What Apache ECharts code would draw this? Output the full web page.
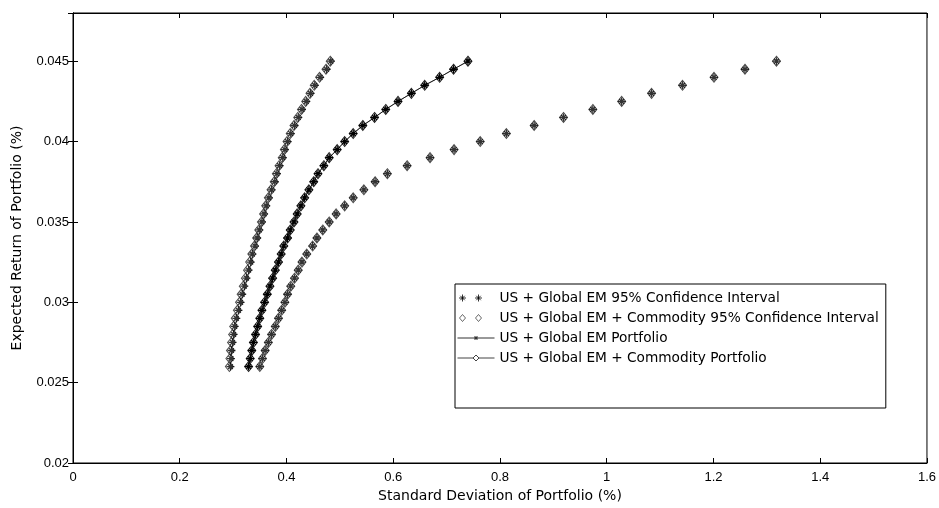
<!DOCTYPE html>
<html><head><meta charset="utf-8">
<script src="https://cdn.jsdelivr.net/npm/echarts@6/dist/echarts.min.js"></script>
<style>html,body{margin:0;padding:0;background:#fff}#c{width:939px;height:508px}</style>
</head><body><div id="c"></div><script>
// Expected return (%) for each frontier point
const expectedReturn = [0.026,0.0265,0.027,0.0275,0.028,0.0285,0.029,0.0295,0.030,0.0305,0.031,0.0315,0.032,0.0325,0.033,0.0335,0.034,0.0345,0.035,0.0355,0.036,0.0365,0.037,0.0375,0.038,0.0385,0.039,0.0395,0.040,0.0405,0.041,0.0415,0.042,0.0425,0.043,0.0435,0.044,0.0445,0.045];
// Standard deviation (%) – US + Global EM 95% CI, lower / upper bounds
const gemCILower = [0.295,0.296,0.297,0.299,0.301,0.303,0.306,0.310,0.314,0.317,0.321,0.325,0.329,0.333,0.336,0.341,0.345,0.349,0.354,0.358,0.362,0.367,0.372,0.378,0.382,0.387,0.393,0.397,0.402,0.408,0.415,0.422,0.429,0.437,0.445,0.453,0.463,0.475,0.483];
const gemCIUpper = [0.350,0.355,0.360,0.366,0.372,0.379,0.385,0.391,0.397,0.402,0.408,0.415,0.422,0.429,0.438,0.449,0.457,0.468,0.480,0.493,0.509,0.525,0.545,0.566,0.589,0.626,0.669,0.714,0.763,0.812,0.864,0.919,0.974,1.028,1.084,1.142,1.201,1.259,1.318];
// Standard deviation (%) – US + Global EM + Commodity 95% CI, lower / upper bounds
const comCILower = [0.293,0.294,0.295,0.297,0.299,0.301,0.304,0.308,0.312,0.315,0.319,0.323,0.327,0.331,0.335,0.340,0.344,0.348,0.353,0.357,0.361,0.366,0.371,0.377,0.381,0.386,0.392,0.396,0.401,0.407,0.414,0.421,0.428,0.436,0.444,0.452,0.462,0.474,0.482];
const comCIUpper = [0.350,0.355,0.360,0.366,0.372,0.379,0.385,0.391,0.397,0.402,0.408,0.415,0.422,0.429,0.438,0.449,0.457,0.468,0.480,0.493,0.509,0.525,0.545,0.566,0.589,0.626,0.669,0.714,0.763,0.812,0.864,0.919,0.974,1.028,1.084,1.142,1.201,1.259,1.318];
// Standard deviation (%) – portfolios
const gemPortfolio = [0.329,0.332,0.335,0.338,0.342,0.346,0.350,0.354,0.359,0.364,0.369,0.374,0.379,0.385,0.390,0.395,0.402,0.407,0.414,0.420,0.427,0.434,0.442,0.451,0.459,0.470,0.480,0.495,0.509,0.525,0.543,0.565,0.586,0.609,0.634,0.659,0.687,0.713,0.740];
const comPortfolio = [0.329,0.332,0.335,0.338,0.342,0.346,0.350,0.354,0.359,0.364,0.369,0.374,0.379,0.385,0.390,0.395,0.402,0.407,0.414,0.420,0.427,0.434,0.442,0.451,0.459,0.470,0.480,0.495,0.509,0.525,0.543,0.565,0.586,0.609,0.634,0.659,0.687,0.713,0.740];

const names = ['US + Global EM 95% Confidence Interval','US + Global EM + Commodity 95% Confidence Interval','US + Global EM Portfolio','US + Global EM + Commodity Portfolio'];

const pair = (xs) => xs.map((x, i) => [x, expectedReturn[i]]);
const STAR = 'path://M0,5L10,5M5,0L5,10M2,2L8,8M8,2L2,8';
const TWO_STARS = 'path://M0,0M37,10M1.5,5L8.5,5M5,1.5L5,8.5M2.8,2.8L7.2,7.2M7.2,2.8L2.8,7.2M17.5,5L24.5,5M21,1.5L21,8.5M18.8,2.8L23.2,7.2M23.2,2.8L18.8,7.2';
const TWO_DIAMONDS = 'path://M0,0M37,10M5,1.5L8,5L5,8.5L2,5Z M21,1.5L24,5L21,8.5L18,5Z';
const LINE_STAR = 'path://M0,0M37,10M0,5L37,5M18.5,3L18.5,7M16.5,5L20.5,5M17,3.5L20,6.5M20,3.5L17,6.5';
const LINE_DIAMOND = 'path://M0,0M37,10M0,5L15.5,5M21.5,5L37,5M18.5,2L21.5,5L18.5,8L15.5,5Z';

const tickFont = 'Liberation Sans, Arial, Helvetica, sans-serif';
const textFont = 'DejaVu Sans, Verdana, sans-serif';
const diamondStyle = {color: 'rgba(0,0,0,0)', borderColor: '#222', borderWidth: 1};
const starStyle = {color: 'rgba(0,0,0,0)', borderColor: '#000', borderWidth: 1.3};

const chart = echarts.init(document.getElementById('c'), null, {renderer: 'canvas'});
const axisCommon = {
  axisLine: {lineStyle: {color: '#000', width: 1}},
  axisTick: {inside: true, length: 5, lineStyle: {color: '#000'}},
  splitLine: {show: false}
};
chart.setOption({
  animation: false,
  backgroundColor: '#fff',
  grid: {left: 73, right: 11, top: 13, bottom: 43, show: true, borderColor: '#000', borderWidth: 1},
  xAxis: [
    Object.assign({type: 'value', min: 0, max: 1.6, interval: 0.2, position: 'bottom',
      name: 'Standard Deviation of Portfolio (%)', nameLocation: 'middle', nameGap: 26,
      nameTextStyle: {color: '#000', fontSize: 14, fontFamily: textFont},
      axisLabel: {color: '#000', fontSize: 13, fontFamily: tickFont, margin: 8, formatter: v => String(+v.toFixed(1))}}, axisCommon),
    Object.assign({type: 'value', min: 0, max: 1.6, interval: 0.2, position: 'top', axisLabel: {show: false}}, axisCommon)
  ],
  yAxis: [
    Object.assign({type: 'value', min: 0.02, max: 0.048, interval: 0.005, position: 'left',
      name: 'Expected Return of Portfolio (%)', nameLocation: 'middle', nameGap: 49,
      nameTextStyle: {color: '#000', fontSize: 14, fontFamily: textFont},
      axisLabel: {color: '#000', fontSize: 13, fontFamily: tickFont, margin: 4, showMaxLabel: false, formatter: v => String(+v.toFixed(4))}}, axisCommon),
    Object.assign({type: 'value', min: 0.02, max: 0.048, interval: 0.005, position: 'right', axisLabel: {show: false}}, axisCommon)
  ],
  legend: {
    orient: 'vertical', left: 455, top: 284,
    padding: [7, 7, 43, 2], itemGap: 6, itemWidth: 37, itemHeight: 10,
    borderColor: '#000', borderWidth: 1, backgroundColor: '#fff',
    textStyle: {color: '#000', fontSize: 13.7, fontFamily: textFont, lineHeight: 14},
    selectedMode: false,
    data: [
      {name: names[0], icon: TWO_STARS, itemStyle: {color: 'rgba(0,0,0,0)', borderColor: '#000', borderWidth: 1}},
      {name: names[1], icon: TWO_DIAMONDS, itemStyle: {color: 'rgba(0,0,0,0)', borderColor: '#444', borderWidth: 1}},
      {name: names[2], icon: LINE_STAR, itemStyle: {color: 'rgba(0,0,0,0)', borderColor: '#333', borderWidth: 1}},
      {name: names[3], icon: LINE_DIAMOND, itemStyle: {color: 'rgba(0,0,0,0)', borderColor: '#444', borderWidth: 1}}
    ]
  },
  series: [
    {name: names[1], type: 'scatter', data: pair(comCILower), symbol: 'diamond', symbolSize: [8, 10], itemStyle: diamondStyle, z: 2},
    {name: names[1], type: 'scatter', data: pair(comCIUpper), symbol: 'diamond', symbolSize: [8, 10], itemStyle: diamondStyle, z: 2},
    {name: names[3], type: 'line', data: pair(comPortfolio), symbol: 'diamond', symbolSize: [8, 10], showSymbol: true,
      lineStyle: {color: '#555', width: 0.8}, itemStyle: diamondStyle, z: 3},
    {name: names[0], type: 'scatter', data: pair(gemCILower), symbol: STAR, symbolSize: 8, itemStyle: starStyle, z: 4},
    {name: names[0], type: 'scatter', data: pair(gemCIUpper), symbol: STAR, symbolSize: 8, itemStyle: starStyle, z: 4},
    {name: names[2], type: 'line', data: pair(gemPortfolio), symbol: STAR, symbolSize: 8, showSymbol: true,
      lineStyle: {color: '#000', width: 0.8}, itemStyle: starStyle, z: 5}
  ]
});
</script></body></html>
